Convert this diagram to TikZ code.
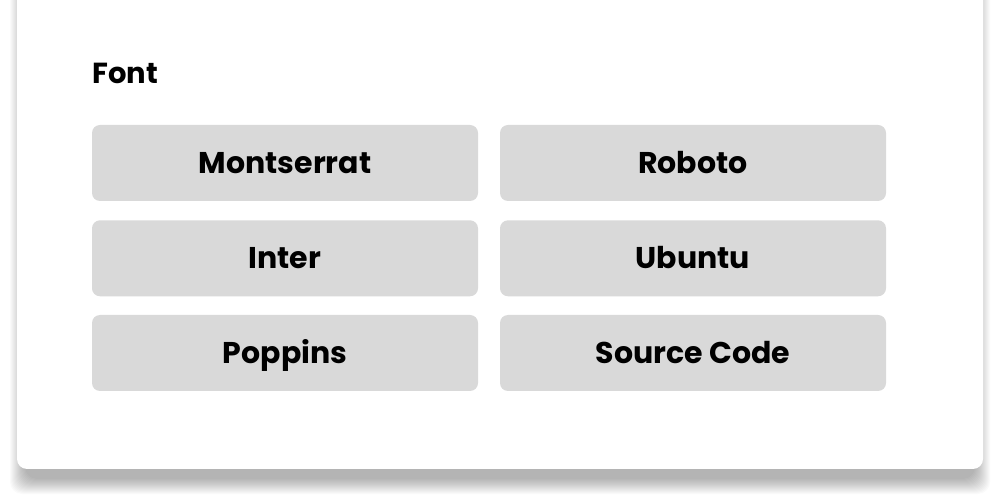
\documentclass[tikz,border=0pt]{standalone}
\usepackage{fontspec}
\setmainfont{Poppins}
\definecolor{btngray}{HTML}{D9D9D9}
\tikzset{
  btn/.style={fill=btngray, rounded corners=8pt, minimum width=386pt, minimum height=76pt,
    inner sep=0pt, text height=20.6pt, text depth=0pt, font=\fontsize{30}{34}\selectfont\bfseries},
  cardbox/.style={fill=white, rounded corners=10pt}
}
\begin{document}
\begin{tikzpicture}[x=1pt,y=-1pt]
\useasboundingbox (0,0) rectangle (999,502);
\fill[white] (0,0) rectangle (999,502);
% shadow
\foreach \i in {0,...,15}{
  \fill[black, opacity=0.021, rounded corners=12pt] (25-\i,-10-\i) rectangle (975+\i,479+\i);
}
\node[cardbox, minimum width=966pt, minimum height=489pt, inner sep=0pt] (card) at (500,224.5) {};
\node[anchor=base west, inner sep=0pt, font=\fontsize{29}{33}\selectfont\bfseries] (title) at (92,84) {Font};
\node[btn] (b1) at (285,163) {Montserrat};
\node[btn] (b2) at (693,163) {Roboto};
\node[btn] (b3) at (285,258.3) {Inter};
\node[btn] (b4) at (693,258.3) {Ubuntu};
\node[btn] (b5) at (285,353) {Poppins};
\node[btn] (b6) at (693,353) {Source Code};
\end{tikzpicture}
\end{document}
